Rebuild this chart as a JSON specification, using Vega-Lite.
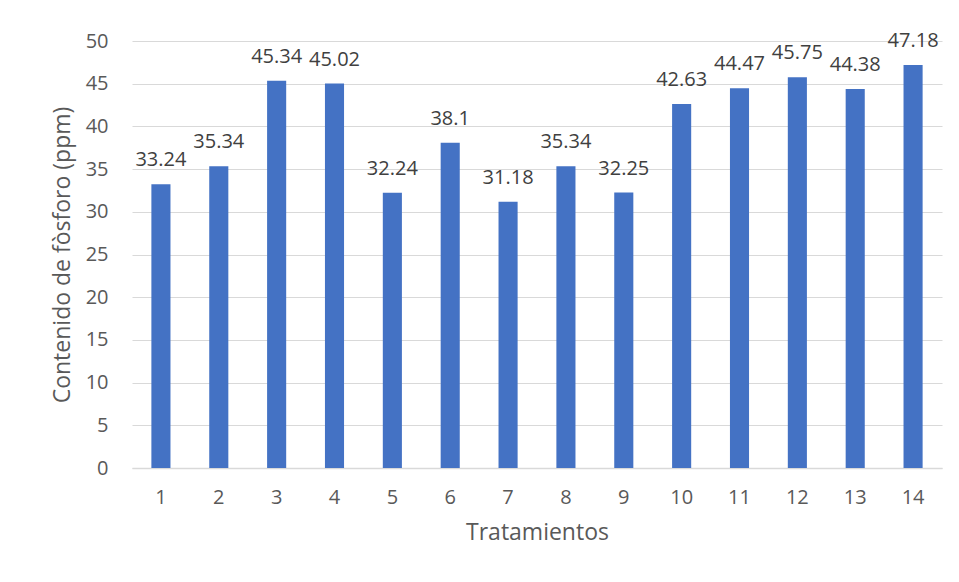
{
  "$schema": "https://vega.github.io/schema/vega-lite/v6.json",
  "autosize": "none",
  "width": 810,
  "height": 427,
  "padding": {"left": 132, "top": 41, "right": 17, "bottom": 114},
  "background": "white",
  "config": {
    "view": {"stroke": null},
    "font": "Open Sans"
  },
  "data": {
    "values": [
      {"t": "1", "v": 33.24},
      {"t": "2", "v": 35.34},
      {"t": "3", "v": 45.34},
      {"t": "4", "v": 45.02},
      {"t": "5", "v": 32.24},
      {"t": "6", "v": 38.1},
      {"t": "7", "v": 31.18},
      {"t": "8", "v": 35.34},
      {"t": "9", "v": 32.25},
      {"t": "10", "v": 42.63},
      {"t": "11", "v": 44.47},
      {"t": "12", "v": 45.75},
      {"t": "13", "v": 44.38},
      {"t": "14", "v": 47.18}
    ]
  },
  "encoding": {
    "x": {
      "field": "t", "type": "ordinal", "sort": null,
      "scale": {"paddingInner": 0.67, "paddingOuter": 0.335},
      "axis": {
        "title": "Tratamientos", "titleFontSize": 23, "titleFontWeight": "normal", "titleColor": "#595959", "titlePadding": 14,
        "labelAngle": 0, "labelFontSize": 20, "labelColor": "#595959", "labelPadding": 19,
        "ticks": false, "domainColor": "#d9d9d9", "domainWidth": 1.5, "grid": false
      }
    },
    "y": {
      "field": "v", "type": "quantitative",
      "scale": {"domain": [0, 50]},
      "axis": {
        "title": "Contenido de fòsforo (ppm)", "titleFontSize": 23, "titleFontWeight": "normal", "titleColor": "#595959", "titlePadding": 11,
        "values": [0, 5, 10, 15, 20, 25, 30, 35, 40, 45, 50],
        "labelFontSize": 20, "labelColor": "#595959", "labelPadding": 24,
        "ticks": false, "domain": false, "gridColor": "#d9d9d9", "gridWidth": 1.2
      }
    }
  },
  "layer": [
    {"mark": {"type": "bar", "color": "#4472C4"}},
    {
      "mark": {"type": "text", "dy": -18, "fontSize": 20, "color": "#404040", "baseline": "alphabetic"},
      "encoding": {"text": {"field": "v", "type": "quantitative"}}
    }
  ]
}
